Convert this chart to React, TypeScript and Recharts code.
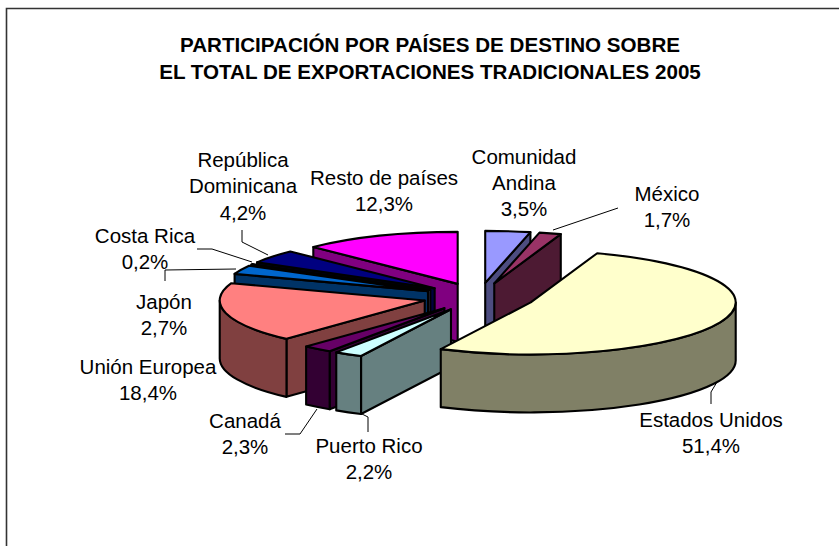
import React from "react";
import { PieChart, Pie } from "recharts";

const names = ["Resto de países", "República Dominicana", "Costa Rica", "Japón", "Unión Europea", "Canadá", "Puerto Rico", "Estados Unidos", "México", "Comunidad Andina"];
const values = [12.3, 4.2, 0.2, 2.7, 18.4, 2.3, 2.2, 51.4, 1.7, 3.5];
const topColors = ["#FF00FF", "#000080", "#CCCCFF", "#0066CC", "#FF8080", "#660066", "#CCFFFF", "#FFFFCC", "#993366", "#9999FF"];
const wallColors = ["#800080", "#000040", "#666680", "#003366", "#804040", "#330033", "#668080", "#808066", "#4D1A33", "#4D4D80"];
const labelLines = [
  ["Resto de países", "12,3%"],
  ["República", "Dominicana", "4,2%"],
  ["Costa Rica", "0,2%"],
  ["Japón", "2,7%"],
  ["Unión Europea", "18,4%"],
  ["Canadá", "2,3%"],
  ["Puerto Rico", "2,2%"],
  ["Estados Unidos", "51,4%"],
  ["México", "1,7%"],
  ["Comunidad", "Andina", "3,5%"],
];
const labelAnchors = [
  [384, 185], [243, 167], [145, 243], [164, 308.5], [148, 374],
  [245, 428], [369, 453], [711, 427], [667, 201], [524, 163.5],
];
const leaderLines = [
  "", "242,230 242,242 268,255", "197,249 212,249 252,262", "165,281 165,270 236,269", "",
  "285,434 300,434 317,409", "360,413 368,417 368,432", "717,382 711,392 711,404", "553,230 618,208", "",
];
const titleLines = ["PARTICIPACIÓN POR PAÍSES DE DESTINO SOBRE", "EL TOTAL DE EXPORTACIONES TRADICIONALES 2005"];
const middleLayer = ["México"];
const frontLayer = ["Estados Unidos"];

const data = names.map((name, i) => ({ name, value: values[i], top: topColors[i], wall: wallColors[i] }));

const FONT = "'Liberation Sans', Arial, sans-serif";
const SQUASH = 52 / 205;
const EXPLODE = 0.273;
const DEPTH = 58;

const drawSlice = (props: any) => {
  const { cx, cy, outerRadius: rx, startAngle, endAngle } = props;
  const p = props.payload ?? props;
  const ry = rx * SQUASH;
  const t1 = 90 - endAngle + 360;
  const t2 = 90 - startAngle + 360;
  const a1 = t1 % 360;
  const a2 = a1 + (t2 - t1);
  const rad = (d: number) => (d * Math.PI) / 180;
  const mid = rad((a1 + a2) / 2);
  const ax = cx + EXPLODE * rx * Math.sin(mid);
  const ay = cy - EXPLODE * ry * Math.cos(mid);
  const pt = (d: number, dy = 0): [number, number] => [ax + rx * Math.sin(rad(d)), ay - ry * Math.cos(rad(d)) + dy];
  const common = { stroke: "#000", strokeWidth: 2.1, strokeLinejoin: "round" as const };
  const P1 = pt(a1);
  const P2 = pt(a2);
  const walls: React.ReactNode[] = [];
  if (a1 > 180 && a1 < 360) {
    walls.push(<path key="s" {...common} fill={p.wall} d={`M${ax},${ay} L${P1[0]},${P1[1]} L${P1[0]},${P1[1] + DEPTH} L${ax},${ay + DEPTH} Z`} />);
  }
  if (a2 > 0 && a2 < 180) {
    walls.push(<path key="e" {...common} fill={p.wall} d={`M${ax},${ay} L${P2[0]},${P2[1]} L${P2[0]},${P2[1] + DEPTH} L${ax},${ay + DEPTH} Z`} />);
  }
  const w1 = Math.max(a1, 90);
  const w2 = Math.min(a2, 270);
  if (w2 > w1) {
    const A = pt(w1);
    const B = pt(w2);
    const large = w2 - w1 > 180 ? 1 : 0;
    walls.push(
      <path key="o" {...common} fill={p.wall}
        d={`M${A[0]},${A[1]} A${rx},${ry} 0 ${large} 1 ${B[0]},${B[1]} L${B[0]},${B[1] + DEPTH} A${rx},${ry} 0 ${large} 0 ${A[0]},${A[1] + DEPTH} Z`} />
    );
  }
  const large = a2 - a1 > 180 ? 1 : 0;
  return (
    <g>
      {walls}
      <path {...common} fill={p.top} d={`M${ax},${ay} L${P1[0]},${P1[1]} A${rx},${ry} 0 ${large} 1 ${P2[0]},${P2[1]} Z`} />
    </g>
  );
};

const nameOf = (props: any) => props.payload?.name ?? props.name;
const backShape = (props: any) => (middleLayer.includes(nameOf(props)) || frontLayer.includes(nameOf(props)) ? <g /> : drawSlice(props));
const middleShape = (props: any) => (middleLayer.includes(nameOf(props)) ? drawSlice(props) : <g />);
const frontShape = (props: any) => (frontLayer.includes(nameOf(props)) ? drawSlice(props) : <g />);

const renderLabel = (props: any) => {
  const i = names.indexOf(nameOf(props));
  const [x, y] = labelAnchors[i];
  return (
    <g key={i}>
      {leaderLines[i] && <polyline points={leaderLines[i]} fill="none" stroke="#000" strokeWidth={1} />}
      {labelLines[i].map((line, k) => (
        <text key={k} x={x} y={y + k * 26.3} textAnchor="middle" fontFamily={FONT} fontSize={20.5} fill="#000">{line}</text>
      ))}
    </g>
  );
};

export default function App() {
  const common = {
    data, dataKey: "value", nameKey: "name", cx: 479, cy: 297, outerRadius: 205,
    startAngle: 90, endAngle: 450, isAnimationActive: false, stroke: "none",
  };
  return (
    <div style={{ position: "absolute", left: 0, top: 0, width: 839, height: 546, background: "#fff", overflow: "hidden" }}>
      <PieChart width={839} height={546} margin={{ top: 0, right: 0, bottom: 0, left: 0 }}>
        <path d="M6.5,546 L6.5,8.5 L839,8.5" fill="none" stroke="#333" strokeWidth={1.6} />
        {titleLines.map((t, i) => (
          <text key={i} x={430} y={52 + i * 26.6} textAnchor="middle" fontFamily={FONT} fontWeight="bold" fontSize={20.6} fill="#000">{t}</text>
        ))}
        <Pie {...common} shape={backShape} labelLine={false} label={false} />
        <Pie {...common} shape={middleShape} labelLine={false} label={false} />
        <Pie {...common} shape={frontShape} labelLine={false} label={renderLabel} />
      </PieChart>
    </div>
  );
}
